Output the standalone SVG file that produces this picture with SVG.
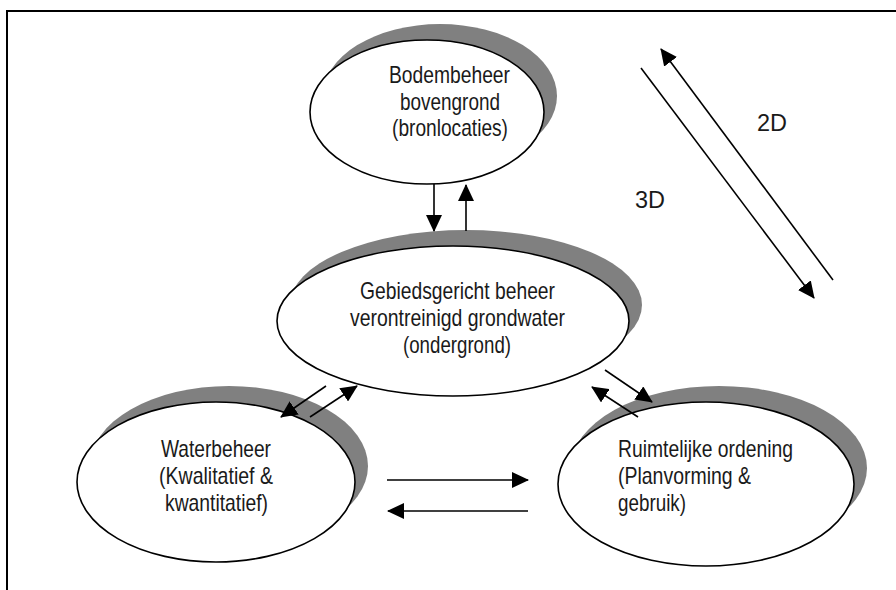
<svg xmlns="http://www.w3.org/2000/svg" width="896" height="590" viewBox="0 0 896 590">
  <style>
    .shadow { fill: #808080; stroke: none; }
    .shape { fill: #ffffff; stroke: #000000; stroke-width: 1.6; }
    .label { font-family: "Liberation Sans Narrow", "Liberation Sans", Arial, sans-serif; font-size: 24px; fill: #1a1a1a; }
    .mid { text-anchor: middle; }
    .link { stroke: #000000; stroke-width: 1.6; fill: none; marker-end: url(#head); }
    .frame { stroke: #000000; stroke-width: 2; fill: none; }
  </style>
  <defs>
    <marker id="head" viewBox="0 0 17 16" refX="16" refY="8" markerWidth="17" markerHeight="16" markerUnits="userSpaceOnUse" orient="auto">
      <path d="M0,0 L17,8 L0,16 z" fill="#000000"/>
    </marker>
  </defs>

  <rect width="896" height="590" fill="#ffffff"/>
  <!-- frame: top and left edges only -->
  <path class="frame" d="M7,590 V11 H896"/>

  <g id="node-bodembeheer">
    <ellipse class="shadow" cx="440" cy="96" rx="117" ry="72"/>
    <ellipse class="shape" cx="427" cy="112" rx="117" ry="72"/>
    <text class="label mid" x="449.5" y="83" textLength="121" lengthAdjust="spacingAndGlyphs">Bodembeheer</text>
    <text class="label mid" x="450" y="109.5" textLength="100" lengthAdjust="spacingAndGlyphs">bovengrond</text>
    <text class="label mid" x="450" y="136" textLength="116" lengthAdjust="spacingAndGlyphs">(bronlocaties)</text>
  </g>

  <g id="node-gebiedsgericht">
    <ellipse class="shadow" cx="466" cy="305" rx="176" ry="75"/>
    <ellipse class="shape" cx="453" cy="321" rx="176" ry="75"/>
    <text class="label mid" x="457.5" y="299" textLength="195" lengthAdjust="spacingAndGlyphs">Gebiedsgericht beheer</text>
    <text class="label mid" x="457.5" y="326" textLength="215" lengthAdjust="spacingAndGlyphs">verontreinigd grondwater</text>
    <text class="label mid" x="457" y="353" textLength="108" lengthAdjust="spacingAndGlyphs">(ondergrond)</text>
  </g>

  <g id="node-waterbeheer">
    <ellipse class="shadow" cx="229" cy="466" rx="139" ry="80"/>
    <ellipse class="shape" cx="216" cy="482" rx="139" ry="80"/>
    <text class="label mid" x="216" y="457" textLength="110" lengthAdjust="spacingAndGlyphs">Waterbeheer</text>
    <text class="label mid" x="216" y="484" textLength="114" lengthAdjust="spacingAndGlyphs">(Kwalitatief &amp;</text>
    <text class="label mid" x="216.5" y="511" textLength="103" lengthAdjust="spacingAndGlyphs">kwantitatief)</text>
  </g>

  <g id="node-ruimtelijke-ordening">
    <ellipse class="shadow" cx="719" cy="468" rx="148" ry="82"/>
    <ellipse class="shape" cx="706" cy="484" rx="148" ry="82"/>
    <text class="label" x="618" y="457" textLength="175" lengthAdjust="spacingAndGlyphs">Ruimtelijke ordening</text>
    <text class="label" x="618" y="484" textLength="133" lengthAdjust="spacingAndGlyphs">(Planvorming &amp;</text>
    <text class="label" x="618" y="511" textLength="68" lengthAdjust="spacingAndGlyphs">gebruik)</text>
  </g>

  <g id="connectors">
    <line class="link" x1="434" y1="184" x2="434" y2="231"/>
    <line class="link" x1="466" y1="231" x2="466" y2="185"/>
    <line class="link" x1="326" y1="386" x2="281" y2="417"/>
    <line class="link" x1="310" y1="417" x2="357" y2="386"/>
    <line class="link" x1="605" y1="370" x2="652" y2="402"/>
    <line class="link" x1="638" y1="417" x2="592" y2="387"/>
    <line class="link" x1="387" y1="480" x2="528" y2="480"/>
    <line class="link" x1="528" y1="511" x2="388" y2="511"/>
    <line class="link" x1="833" y1="280" x2="661" y2="49"/>
    <line class="link" x1="641" y1="68" x2="814" y2="298"/>
  </g>

  <g id="dimension-labels">
    <text class="label" x="757" y="131" textLength="30" lengthAdjust="spacingAndGlyphs">2D</text>
    <text class="label" x="635" y="208" textLength="30" lengthAdjust="spacingAndGlyphs">3D</text>
  </g>
</svg>
